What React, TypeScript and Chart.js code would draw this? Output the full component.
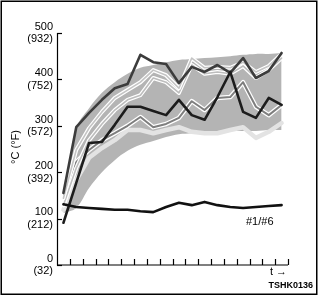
import { useEffect, useRef } from "react";
import { Chart, registerables } from "chart.js";

Chart.register(...registerables);

// Time positions (arbitrary units, axis runs 0..18 with ticks 1..18)
const times = [0.5, 1.5, 2.5, 3.5, 4.5, 5.5, 6.5, 7.5, 8.5, 9.5, 10.5, 11.5, 12.5, 13.5, 14.5, 15.5, 16.5, 17.5];

// Temperatures in °C
const bandUpper = [140, 295, 338, 371, 394, 412, 425, 431, 437, 442, 444, 446, 448, 450, 453, 455, 455, 457];
const bandLower = [112, 123, 166, 200, 226, 246, 259, 267, 276, 282, 284, 287, 289, 289, 289, 289, 291, 291];

const cylDark = [155, 297, 328, 356, 381, 390, 453, 437, 433, 392, 427, 416, 431, 414, 446, 403, 418, 457];
const cylBlack = [91, 177, 263, 265, 302, 341, 341, 332, 323, 356, 323, 313, 362, 416, 330, 317, 360, 345];
const cylMid = [129, 222, 248, 269, 284, 300, 319, 297, 304, 317, 353, 334, 360, 362, 394, 341, 323, 345];
const cylLightA = [144, 248, 295, 330, 360, 377, 394, 420, 409, 381, 446, 425, 427, 425, 437, 416, 429, 455];
const cylLightB = [129, 209, 269, 304, 334, 356, 366, 403, 394, 371, 431, 412, 416, 412, 429, 403, 420, 446];
const cylPale = [119, 183, 231, 252, 269, 291, 291, 284, 291, 297, 287, 284, 284, 291, 297, 274, 287, 306];
const line16 = [131, 125, 123, 121, 119, 119, 116, 114, 125, 134, 129, 136, 129, 125, 123, 125, 127, 129];

const yTicksC = [0, 100, 200, 300, 400, 500];
const yTicksF = ["(32)", "(212)", "(392)", "(572)", "(752)", "(932)"];
const xTicks = [1, 2, 3, 4, 5, 6, 7, 8, 9, 10, 11, 12, 13, 14, 15, 16, 17, 18];

const yTitle = "°C (°F)";
const seriesLabel = "#1/#6";
const timeLabel = "t →";
const codeLabel = "TSHK0136";

const FONT = "'Liberation Sans', Arial, Helvetica, sans-serif";

export default function App() {
  const ref = useRef<HTMLCanvasElement>(null);

  useEffect(() => {
    document.body.style.margin = "0";
    const canvas = ref.current;
    if (!canvas) return;
    const pts = (arr: number[]) => arr.map((v, i) => ({ x: times[i], y: v }));

    const line = (data: number[], color: string, width: number, order: number, extra: any = {}) => ({
      data: pts(data),
      borderColor: color,
      borderWidth: width,
      pointRadius: 0,
      tension: 0,
      fill: false,
      order,
      borderJoinStyle: "round",
      borderCapStyle: "round",
      ...extra,
    });

    const deco = {
      id: "deco",
      afterDraw(chart: any) {
        const ctx = chart.ctx;
        const xs = chart.scales.x;
        const ys = chart.scales.y;
        const left = xs.getPixelForValue(0);
        const right = xs.getPixelForValue(18);
        const top = ys.getPixelForValue(500);
        const bottom = ys.getPixelForValue(0);
        ctx.save();
        ctx.strokeStyle = "#000";
        ctx.lineWidth = 1.2;
        // axes
        ctx.beginPath();
        ctx.moveTo(Math.round(left) + 0.5, top);
        ctx.lineTo(Math.round(left) + 0.5, bottom);
        ctx.lineTo(right, bottom);
        ctx.stroke();
        // y ticks inside
        ctx.lineWidth = 1.2;
        yTicksC.forEach((v) => {
          const y = Math.round(ys.getPixelForValue(v)) + 0.5;
          ctx.beginPath();
          ctx.moveTo(left, y);
          ctx.lineTo(left + 5, y);
          ctx.stroke();
        });
        // x ticks inside
        xTicks.forEach((v) => {
          const x = Math.round(xs.getPixelForValue(v)) + 0.5;
          ctx.beginPath();
          ctx.moveTo(x, bottom);
          ctx.lineTo(x, bottom - 6);
          ctx.stroke();
        });
        // frame
        ctx.lineWidth = 1.5;
        ctx.strokeRect(1.25, 1.25, 315.5, 293);
        // y title
        ctx.fillStyle = "#000";
        ctx.font = `11px ${FONT}`;
        ctx.textAlign = "center";
        ctx.textBaseline = "middle";
        ctx.save();
        ctx.translate(16, 147);
        ctx.rotate(-Math.PI / 2);
        ctx.fillText(yTitle, 0, 0);
        ctx.restore();
        // annotations
        ctx.textAlign = "left";
        ctx.fillText(seriesLabel, 246, 222);
        ctx.fillText(timeLabel, 270, 272);
        ctx.font = `bold 9px ${FONT}`;
        ctx.textAlign = "right";
        ctx.fillText(codeLabel, 313, 286);
        ctx.restore();
      },
    };

    const chart = new Chart(canvas, {
      type: "line",
      data: {
        datasets: [
          {
            data: pts(bandUpper),
            borderWidth: 0,
            borderColor: "rgba(0,0,0,0)",
            backgroundColor: "#b4b4b4",
            pointRadius: 0,
            fill: "+1",
            tension: 0.35,
            order: 30,
          } as any,
          {
            data: pts(bandLower),
            borderWidth: 0,
            borderColor: "rgba(0,0,0,0)",
            pointRadius: 0,
            fill: false,
            tension: 0.35,
            order: 29,
          } as any,
          line(cylPale, "#e3e3e3", 4.5, 12),
          line(cylMid, "#ffffff", 4.5, 11),
          line(cylMid, "#7e7e7e", 2, 10),
          line(cylLightB, "#ffffff", 4, 9),
          line(cylLightB, "#bdbdbd", 1.6, 8),
          line(cylLightA, "#ffffff", 4, 7),
          line(cylLightA, "#c4c4c4", 1.6, 6),
          line(cylDark, "#3c3c3c", 2.6, 3),
          line(cylBlack, "#1c1c1c", 2.6, 2),
          line(line16, "#111111", 2.6, 1),
        ] as any,
      },
      options: {
        responsive: false,
        animation: false,
        events: [],
        layout: { padding: { left: 0, top: 33, right: 31, bottom: 31 } },
        plugins: {
          legend: { display: false },
          tooltip: { enabled: false },
          title: { display: false },
        },
        scales: {
          x: { type: "linear", min: 0, max: 18, display: false },
          y: {
            type: "linear",
            min: 0,
            max: 500,
            afterFit: (s: any) => {
              s.width = 57;
            },
            afterBuildTicks: (s: any) => {
              s.ticks = yTicksC.map((v) => ({ value: v }));
            },
            ticks: {
              color: "#000",
              padding: 4,
              font: { family: FONT, size: 11, lineHeight: 1.15 },
              callback: (v: any) => {
                const i = yTicksC.indexOf(Number(v));
                return [String(v), yTicksF[i]];
              },
            },
            grid: { display: false, drawTicks: false },
            border: { display: false },
          },
        },
      } as any,
      plugins: [deco],
    });
    return () => chart.destroy();
  }, []);

  return (
    <div style={{ width: 319, height: 296 }}>
      <canvas ref={ref} width={319} height={296} style={{ display: "block" }} />
    </div>
  );
}
